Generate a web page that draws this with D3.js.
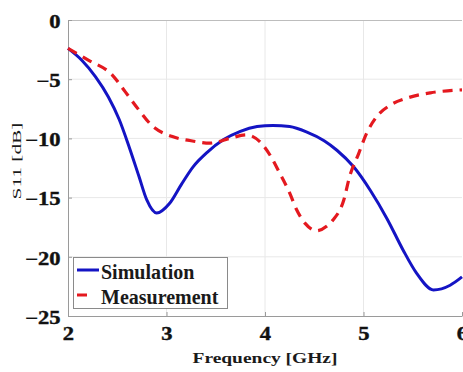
<!DOCTYPE html>
<html>
<head>
<meta charset="utf-8">
<script src="https://cdn.jsdelivr.net/npm/d3@7"></script>
<style>
  html, body { margin: 0; padding: 0; background: #fff; }
  #chart { width: 463px; height: 372px; overflow: hidden; }
  text { font-family: "Liberation Serif", "Times New Roman", serif; }
</style>
</head>
<body>
<div id="chart"></div>
<script>
// S11, frequency in GHz, level in dB
const simFreq = [2.0, 2.14, 2.28, 2.41, 2.52, 2.62, 2.72, 2.8, 2.9, 3.03, 3.15, 3.27, 3.41, 3.58, 3.75, 3.92, 4.08, 4.25, 4.42, 4.6, 4.73, 4.9, 5.07, 5.24, 5.4, 5.54, 5.71, 5.88, 6.0];
const simDb   = [-2.4, -3.4, -4.8, -6.5, -8.4, -10.7, -13.2, -15.2, -16.3, -15.5, -13.9, -12.4, -11.2, -10.1, -9.4, -9.0, -8.9, -9.0, -9.45, -10.2, -11.0, -12.4, -14.4, -16.8, -19.4, -21.4, -22.8, -22.4, -21.7];

const measFreq = [2.0, 2.21, 2.45, 2.58, 2.72, 2.85, 3.06, 3.25, 3.44, 3.64, 3.81, 3.95, 4.05, 4.15, 4.25, 4.32, 4.41, 4.52, 4.63, 4.69, 4.8, 4.86, 4.95, 5.03, 5.13, 5.27, 5.44, 5.68, 6.0];
const measDb   = [-2.4, -3.4, -4.65, -6.05, -7.6, -8.9, -9.85, -10.2, -10.4, -10.0, -9.7, -10.3, -11.4, -12.95, -14.6, -16.0, -17.2, -17.8, -17.4, -16.9, -15.2, -13.2, -11.3, -9.6, -8.2, -7.2, -6.6, -6.15, -5.9];

const xTicks = [2, 3, 4, 5, 6];
const yTicks = [0, -5, -10, -15, -20, -25];

const width = 463, height = 372;
const mLeft = 68, mRight = 462, mTop = 20, mBottom = 316;

const svg = d3.select("#chart").append("svg")
    .attr("width", width)
    .attr("height", height);

const x = d3.scaleLinear().domain([2, 6]).range([mLeft, mRight]);
const y = d3.scaleLinear().domain([-25, 0]).range([mBottom, mTop]);

// grid
svg.append("g").selectAll("line")
    .data(xTicks.slice(1, -1))
    .join("line")
    .attr("x1", d => x(d)).attr("x2", d => x(d))
    .attr("y1", mTop).attr("y2", mBottom)
    .attr("stroke", "#e8e8e8").attr("stroke-width", 1);
svg.append("g").selectAll("line")
    .data(yTicks.slice(1, -1))
    .join("line")
    .attr("x1", mLeft).attr("x2", mRight)
    .attr("y1", d => y(d)).attr("y2", d => y(d))
    .attr("stroke", "#e8e8e8").attr("stroke-width", 1);

// top border
svg.append("line")
    .attr("x1", mLeft).attr("x2", mRight)
    .attr("y1", mTop + 0.5).attr("y2", mTop + 0.5)
    .attr("stroke", "#bdbdbd");

// axes
const xAxis = svg.append("g")
    .attr("transform", `translate(0,${mBottom})`)
    .call(d3.axisBottom(x).tickValues(xTicks).tickFormat(d3.format("d")).tickSizeInner(-4).tickSizeOuter(0).tickPadding(11));
const yAxis = svg.append("g")
    .attr("transform", `translate(${mLeft},0)`)
    .call(d3.axisLeft(y).tickValues(yTicks).tickFormat(d3.format("d")).tickSizeInner(-4).tickSizeOuter(0).tickPadding(6));

[xAxis, yAxis].forEach(g => {
  g.attr("font-family", null);
  g.select(".domain").attr("stroke", "#9a9a9a");
  g.selectAll(".tick line").attr("stroke", "#9a9a9a");
  g.selectAll(".tick text")
      .attr("fill", "#111")
      .attr("font-size", "18px")
      .attr("font-weight", "bold")
      .attr("stroke", "#111")
      .attr("stroke-width", 0.4)
      .attr("transform", "scale(1.25,1)");
});
yAxis.selectAll(".tick text").attr("dy", "0.4em");
xAxis.selectAll(".tick text").attr("dy", "0.75em");

// curves
const line = d3.line()
    .x(d => x(d[0]))
    .y(d => y(d[1]))
    .curve(d3.curveMonotoneX);

svg.append("path")
    .datum(d3.zip(simFreq, simDb))
    .attr("d", line)
    .attr("fill", "none")
    .attr("stroke", "#1414c4")
    .attr("stroke-width", 3);

svg.append("path")
    .datum(d3.zip(measFreq, measDb))
    .attr("d", line)
    .attr("fill", "none")
    .attr("stroke", "#e4191f")
    .attr("stroke-width", 3.2)
    .attr("stroke-dasharray", "10,7");

// axis titles
svg.append("text")
    .attr("x", 265).attr("y", 363)
    .attr("text-anchor", "middle")
    .attr("font-size", "14px")
    .attr("font-weight", "bold")
    .attr("fill", "#1a1a1a")
    .attr("textLength", 145)
    .attr("lengthAdjust", "spacingAndGlyphs")
    .text("Frequency [GHz]");

svg.append("text")
    .attr("transform", "translate(21,161) rotate(-90)")
    .attr("text-anchor", "middle")
    .attr("font-size", "12px")
    .attr("fill", "#1a1a1a")
    .attr("textLength", 77)
    .attr("lengthAdjust", "spacingAndGlyphs")
    .text("S11 [dB]");

// legend
const legend = svg.append("g");
legend.append("rect")
    .attr("x", 73.5).attr("y", 257.5)
    .attr("width", 154).attr("height", 51)
    .attr("fill", "#fff")
    .attr("stroke", "#8a8a8a");

const items = [
  { name: "Simulation", color: "#1414c4", dash: null, y: 270 },
  { name: "Measurement", color: "#e4191f", dash: "10,12", y: 295 }
];
items.forEach(it => {
  legend.append("line")
      .attr("x1", 77).attr("x2", 99)
      .attr("y1", it.y).attr("y2", it.y)
      .attr("stroke", it.color)
      .attr("stroke-width", 3)
      .attr("stroke-dasharray", it.dash);
  legend.append("text")
      .attr("x", 101).attr("y", it.y + 9)
      .attr("font-size", "20px")
      .attr("font-weight", "bold")
      .attr("fill", "#1a1a1a")
      .text(it.name);
});
</script>
</body>
</html>
